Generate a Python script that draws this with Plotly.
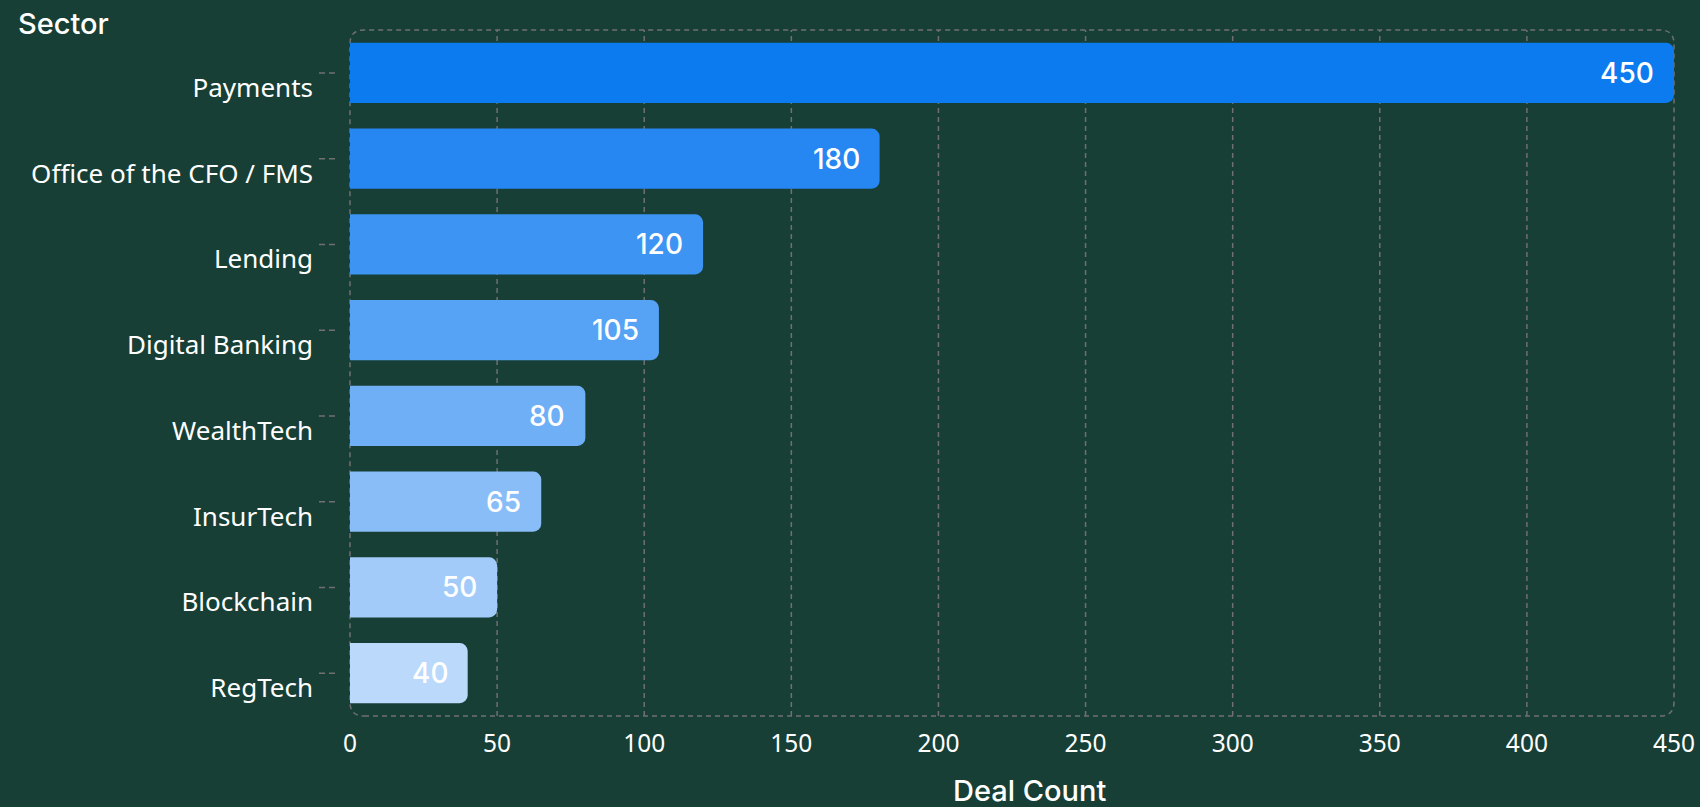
import plotly.graph_objects as go

sectors = ["Payments", "Office of the CFO / FMS", "Lending", "Digital Banking",
           "WealthTech", "InsurTech", "Blockchain", "RegTech"]
deal_counts = [450, 180, 120, 105, 80, 65, 50, 40]
bar_colors = ["#0c7bf0", "#2787f2", "#3d94f3", "#56a2f4",
              "#6eaff6", "#89bdf7", "#a2cbf9", "#bad9fb"]
x_ticks = [0, 50, 100, 150, 200, 250, 300, 350, 400, 450]

BG = "#173f36"
GRID = "#707070"
W, H = 1700, 807
L, R, T, B = 350, 26, 30, 91
PW, PH = W - L - R, H - T - B

fig = go.Figure()
fig.add_trace(go.Bar(
    x=deal_counts, y=sectors, orientation="h",
    marker=dict(color=bar_colors, cornerradius=8, line=dict(width=0)),
    width=0.7, hoverinfo="x+y",
))

shapes = []
# dashed vertical gridlines (interior ticks only)
for v in x_ticks[1:-1]:
    shapes.append(dict(type="line", xref="x", yref="paper", x0=v, x1=v, y0=0, y1=1,
                       line=dict(color=GRID, width=1.5, dash="5px,4px"), layer="below"))
# rounded dashed border around plot area
rx, ry = 14 / PW, 14 / PH
path = (f"M {rx},0 L {1-rx},0 Q 1,0 1,{ry} L 1,{1-ry} Q 1,1 {1-rx},1 "
        f"L {rx},1 Q 0,1 0,{1-ry} L 0,{ry} Q 0,0 {rx},0 Z")
shapes.append(dict(type="path", xref="paper", yref="paper", path=path,
                   line=dict(color=GRID, width=1.5, dash="5px,4px"), layer="below"))
# dashed y tick marks
for s in sectors:
    shapes.append(dict(type="line", xref="paper", yref="y", x0=-31 / PW, x1=-15 / PW,
                       y0=s, y1=s, line=dict(color=GRID, width=1.5, dash="6px,4px")))

annotations = []
for s, v in zip(sectors, deal_counts):
    annotations.append(dict(x=v, y=s, xref="x", yref="y", text=str(v), showarrow=False,
                            xanchor="right", yanchor="middle", xshift=-18,
                            font=dict(family="Inter", size=28, color="white", weight=500)))
annotations.append(dict(x=(1029 - L) / PW, y=-(790 - (H - B)) / PH, xref="paper", yref="paper",
                        text="Deal Count", showarrow=False, xanchor="center", yanchor="middle",
                        font=dict(family="Inter", size=29, color="white", weight=500)))

fig.update_layout(
    width=W, height=H,
    paper_bgcolor=BG, plot_bgcolor=BG,
    margin=dict(l=L, r=R, t=T, b=B, autoexpand=False),
    showlegend=False,
    bargap=0.3,
    title=dict(text="Sector", x=18 / W, xanchor="left", y=1 - 24 / H, yanchor="middle",
               xref="container", yref="container",
               font=dict(family="Inter", size=29, color="white", weight=500)),
    xaxis=dict(range=[0, 450], tickvals=x_ticks, showgrid=False, zeroline=False,
               showline=False, ticks="", ticklabelstandoff=10, automargin=False,
               tickfont=dict(family="Noto Sans", size=24.5, color="white")),
    yaxis=dict(autorange="reversed", showgrid=False, zeroline=False, showline=False,
               ticks="", ticklabelstandoff=36, ticklabelshift=-15, automargin=False,
               tickfont=dict(family="Noto Sans", size=26, color="white")),
    shapes=shapes, annotations=annotations,
)

fig.write_html("out.html", config={"displayModeBar": False},
               post_script="document.body.style.margin='0';document.body.style.background='" + BG + "';")
